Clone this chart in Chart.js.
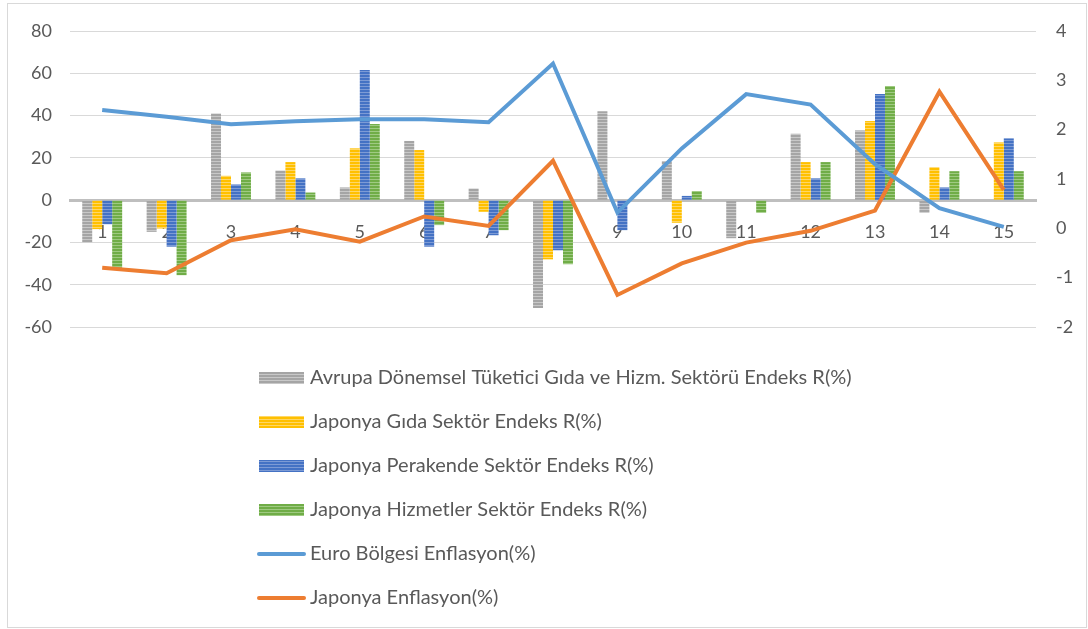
<!DOCTYPE html>
<html>
<head>
<meta charset="utf-8">
<script src="https://cdn.jsdelivr.net/npm/chart.js@4"></script>
<style>
  body { margin: 0; background: #fff; }
</style>
</head>
<body>
<canvas id="chart" width="1088" height="629"></canvas>
<script>
// veriler
var categories = ['1', '2', '3', '4', '5', '6', '7', '8', '9', '10', '11', '12', '13', '14', '15'];
var avrupaEndeks = [-20, -15, 41, 14, 6, 28, 5.5, -51, 42, 18.5, -18, 31.4, 33, -6, 0];
var japonyaGida = [-13.7, -13.4, 11.5, 18, 24.5, 23.7, -5.5, -28, 0, -10.7, 0, 18, 37.4, 15.6, 27.3];
var japonyaPerakende = [-11.4, -22, 7.4, 10.3, 61.6, -22, -16.6, -23.7, -14.2, 2, 0, 10.3, 50.2, 6, 29.2];
var japonyaHizmet = [-32, -35.5, 13.1, 3.6, 36, -11.8, -14.2, -30.3, 0, 4.3, -6, 18, 54, 13.7, 13.7];
var euroEnflasyon = [2.40, 2.26, 2.11, 2.17, 2.21, 2.21, 2.15, 3.34, 0.32, 1.62, 2.72, 2.51, 1.30, 0.41, 0.03];
var japonyaEnflasyon = [-0.80, -0.91, -0.24, -0.02, -0.27, 0.24, 0.05, 1.37, -1.35, -0.71, -0.29, -0.05, 0.36, 2.77, 0.78];
var leftTicks = { min: -60, max: 80, step: 20 };
var rightTicks = { min: -2, max: 4, step: 1 };

var textColor = '#595959';
var font = { family: 'Lato', size: 18 };
var legendFont = { family: 'Lato', size: 20 };

// yatay cizgili dolgu (Excel desenine benzer)
function stripes(base, light) {
    var c = document.createElement('canvas');
    c.width = 4; c.height = 3;
    var g = c.getContext('2d');
    g.fillStyle = base; g.fillRect(0, 0, 4, 3);
    g.fillStyle = light; g.fillRect(0, 2, 4, 1);
    return g.createPattern(c, 'repeat');
}

var frame = {
    id: 'frame',
    beforeDraw: function (chart) {
        var ctx = chart.ctx;
        ctx.save();
        ctx.strokeStyle = '#d9d9d9';
        ctx.lineWidth = 1;
        ctx.strokeRect(7.5, 3.5, 1079, 624);
        ctx.restore();
    }
};

// dikey lejant
var listLegend = {
    id: 'listLegend',
    afterDraw: function (chart) {
        var ctx = chart.ctx;
        ctx.save();
        ctx.font = legendFont.size + 'px ' + legendFont.family;
        ctx.textBaseline = 'middle';
        chart.data.datasets.forEach(function (ds, i) {
            var y = 378 + i * 44;
            if (ds.type === 'line') {
                ctx.strokeStyle = ds.borderColor;
                ctx.lineWidth = 4;
                ctx.lineCap = 'round';
                ctx.beginPath();
                ctx.moveTo(259, y);
                ctx.lineTo(304, y);
                ctx.stroke();
            } else {
                ctx.fillStyle = ds.backgroundColor;
                ctx.fillRect(259, y - 6, 45, 12);
            }
            ctx.fillStyle = textColor;
            ctx.fillText(ds.label, 310, y);
        });
        ctx.restore();
    }
};

var ctx = document.getElementById('chart').getContext('2d');
var chart = new Chart(ctx, {
    data: {
        labels: categories,
        datasets: [{
            type: 'bar',
            label: 'Avrupa Dönemsel Tüketici Gıda ve Hizm. Sektörü Endeks R(%)',
            data: avrupaEndeks,
            backgroundColor: stripes('#a5a5a5', '#c8c8c8'),
            yAxisID: 'y', order: 2
        }, {
            type: 'bar',
            label: 'Japonya Gıda Sektör Endeks R(%)',
            data: japonyaGida,
            backgroundColor: stripes('#ffc000', '#ffd766'),
            yAxisID: 'y', order: 2
        }, {
            type: 'bar',
            label: 'Japonya Perakende Sektör Endeks R(%)',
            data: japonyaPerakende,
            backgroundColor: stripes('#4472c4', '#7d9bd5'),
            yAxisID: 'y', order: 2
        }, {
            type: 'bar',
            label: 'Japonya Hizmetler Sektör Endeks R(%)',
            data: japonyaHizmet,
            backgroundColor: stripes('#70ad47', '#9fca82'),
            yAxisID: 'y', order: 2
        }, {
            type: 'line',
            label: 'Euro Bölgesi Enflasyon(%)',
            data: euroEnflasyon,
            borderColor: '#5b9bd5',
            borderWidth: 4,
            pointRadius: 0,
            yAxisID: 'y1', order: 0
        }, {
            type: 'line',
            label: 'Japonya Enflasyon(%)',
            data: japonyaEnflasyon,
            borderColor: '#ed7d31',
            borderWidth: 4,
            pointRadius: 0,
            yAxisID: 'y1', order: 0
        }]
    },
    options: {
        responsive: false,
        animation: false,
        devicePixelRatio: 1,
        layout: { padding: { top: 31, bottom: 302, left: 0, right: 0 } },
        datasets: { bar: { barPercentage: 1, categoryPercentage: 0.62 } },
        plugins: { legend: { display: false }, tooltip: { enabled: false } },
        scales: {
            x: {
                position: { y: 0 },
                offset: true,
                grid: { display: false, drawTicks: false },
                border: { display: true, color: '#bfbfbf', width: 3 },
                ticks: { color: textColor, font: font, padding: 21, maxRotation: 0, autoSkip: false }
            },
            y: {
                position: 'left',
                min: leftTicks.min, max: leftTicks.max,
                grid: { color: '#d9d9d9', drawTicks: false },
                border: { display: false },
                ticks: { stepSize: leftTicks.step, color: textColor, font: font, padding: 18 },
                afterFit: function (s) { s.width = 70; }
            },
            y1: {
                position: 'right',
                min: rightTicks.min, max: rightTicks.max,
                grid: { display: false, drawTicks: false },
                border: { display: false },
                ticks: { stepSize: rightTicks.step, color: textColor, font: font, padding: 20 },
                afterFit: function (s) { s.width = 52; }
            }
        }
    },
    plugins: [frame, listLegend]
});
</script>
</body>
</html>
